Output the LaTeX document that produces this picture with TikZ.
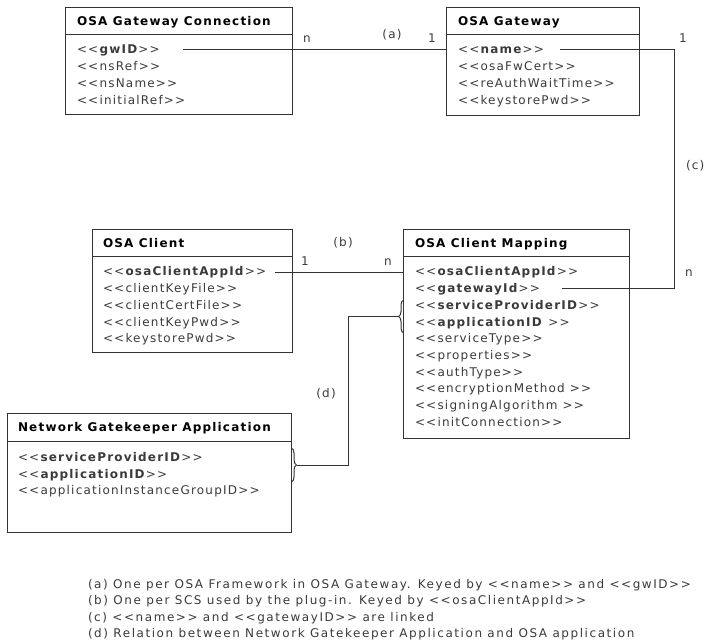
\documentclass[tikz,border=0pt]{standalone}
\usepackage{fontspec}
\setmainfont{DejaVu Sans}[Ligatures=TeXOff,LetterSpace=10]
\usetikzlibrary{decorations.pathreplacing}
\definecolor{ink}{HTML}{333333}
\definecolor{txt}{HTML}{3A3A3A}
\newcommand{\st}[1]{<<#1>>}
\begin{document}
\begin{tikzpicture}[x=1pt,y=-1pt,
  every node/.style={inner sep=0pt, outer sep=0pt},
  font=\fontsize{12}{14}\selectfont,
  umlbox/.style={draw=ink, line width=1pt, anchor=north west},
  sep/.style={draw=ink, line width=1pt},
  ttl/.style={anchor=base west, font=\fontsize{12}{14}\selectfont\bfseries, text=black},
  attr/.style={anchor=base west, text=txt},
  lbl/.style={anchor=base, text=txt},
  note/.style={anchor=base west, text=txt, font=\fontsize{12}{14}\selectfont\addfontfeature{LetterSpace=13}},
  conn/.style={draw=ink, line width=1pt},
  brc/.style={draw=ink, line width=1pt, decorate, decoration={brace, amplitude=5pt}},
]
\useasboundingbox (0,0) rectangle (704,644);

% OSA Gateway Connection
\node[umlbox, minimum width=227, minimum height=107] (gc) at (65.5,7.5) {};
\draw[sep] ([yshift=-27pt]gc.north west) -- ([yshift=-27pt]gc.north east);
\node[ttl] (gcT) at (77,25.5) {OSA Gateway Connection};
\node[attr] (gc1) at (77,54) {\st{\textbf{gwID}}};
\node[attr] (gc2) at (77,70.7) {\st{nsRef}};
\node[attr] (gc3) at (77,87.4) {\st{nsName}};
\node[attr] (gc4) at (77,104.1) {\st{initialRef}};

% OSA Gateway
\node[umlbox, minimum width=193, minimum height=108] (gw) at (446.5,7.5) {};
\draw[sep] ([yshift=-27pt]gw.north west) -- ([yshift=-27pt]gw.north east);
\node[ttl] (gwT) at (458,25.5) {OSA Gateway};
\node[attr] (gw1) at (458,54) {\st{\textbf{name}}};
\node[attr] (gw2) at (458,70.7) {\st{osaFwCert}};
\node[attr] (gw3) at (458,87.4) {\st{reAuthWaitTime}};
\node[attr] (gw4) at (458,104.1) {\st{keystorePwd}};

% OSA Client
\node[umlbox, minimum width=200, minimum height=123] (cl) at (92.5,229.5) {};
\draw[sep] ([yshift=-27pt]cl.north west) -- ([yshift=-27pt]cl.north east);
\node[ttl] (clT) at (103,247.5) {OSA Client};
\node[attr] (cl1) at (103,276) {\st{\textbf{osaClientAppId}}};
\node[attr] (cl2) at (103,292.7) {\st{clientKeyFile}};
\node[attr] (cl3) at (103,309.4) {\st{clientCertFile}};
\node[attr] (cl4) at (103,326.1) {\st{clientKeyPwd}};
\node[attr] (cl5) at (103,342.8) {\st{keystorePwd}};

% OSA Client Mapping
\node[umlbox, minimum width=226, minimum height=209] (map) at (403.5,229.5) {};
\draw[sep] ([yshift=-27pt]map.north west) -- ([yshift=-27pt]map.north east);
\node[ttl] (mapT) at (415,247.5) {OSA Client Mapping};
\node[attr] (m1) at (415,276) {\st{\textbf{osaClientAppId}}};
\node[attr] (m2) at (415,292.7) {\st{\textbf{gatewayId}}};
\node[attr] (m3) at (415,309.4) {\st{\textbf{serviceProviderID}}};
\node[attr] (m4) at (415,326.1) {\st{\textbf{applicationID }}};
\node[attr] (m5) at (415,342.8) {\st{serviceType}};
\node[attr] (m6) at (415,359.5) {\st{properties}};
\node[attr] (m7) at (415,376.2) {\st{authType}};
\node[attr] (m8) at (415,392.9) {\st{encryptionMethod }};
\node[attr] (m9) at (415,409.6) {\st{signingAlgorithm }};
\node[attr] (m10) at (415,426.3) {\st{initConnection}};

% Network Gatekeeper Application
\node[umlbox, minimum width=284, minimum height=119] (nga) at (7.5,413.5) {};
\draw[sep] ([yshift=-28pt]nga.north west) -- ([yshift=-28pt]nga.north east);
\node[ttl] (ngaT) at (18,431.5) {Network Gatekeeper Application};
\node[attr] (n1) at (18,461.5) {\st{\textbf{serviceProviderID}}};
\node[attr] (n2) at (18,478.5) {\st{\textbf{applicationID}}};
\node[attr] (n3) at (18,494.5) {\st{applicationInstanceGroupID}};

% (a)
\coordinate (aS) at (183,49.5);
\draw[conn] (aS) -- (aS -| gw.west);
\node[lbl] (an) at (307,43) {n};
\node[lbl] (al) at (392,39) {(a)};
\node[lbl] (a1) at (432,43) {1};

% (b)
\coordinate (bS) at (275,272.5);
\draw[conn] (bS) -- (bS -| map.west);
\node[lbl] (bl) at (343,247) {(b)};
\node[lbl] (b1) at (305,266) {1};
\node[lbl] (bn) at (388,266) {n};

% (c)
\coordinate (cS) at (560,49.5);
\coordinate (cE) at (562,288.5);
\coordinate (cV) at (674.5,170);
\draw[conn] (cS) -| (cV) |- (cE);
\node[lbl] (c1) at (683,43) {1};
\node[anchor=base west, text=txt] (cl) at (686,170) {(c)};
\node[lbl] (cn) at (689,277) {n};

% (d)
\draw[brc] (403.5,333) -- (403.5,300);
\coordinate (mtip) at (398.5,316.5);
\draw[brc] (291.5,448) -- (291.5,482);
\coordinate (ntip) at (296.5,465.5);
\coordinate (dV) at (348.5,390);
\draw[conn] (mtip) -| (dV) |- (ntip);
\node[lbl] (dl) at (326,397) {(d)};

% notes
\node[note] (na) at (88,588) {(a) One per OSA Framework in OSA Gateway. Keyed by <<name>> and <<gwID>>};
\node[note] (nb) at (88,604.5) {(b) One per SCS used by the plug-in. Keyed by <<osaClientAppId>>};
\node[note] (nc) at (88,621) {(c) <<name>> and <<gatewayID>> are linked};
\node[note] (nd) at (88,637.5) {(d) Relation between Network Gatekeeper Application and OSA application};
\end{tikzpicture}
\end{document}
